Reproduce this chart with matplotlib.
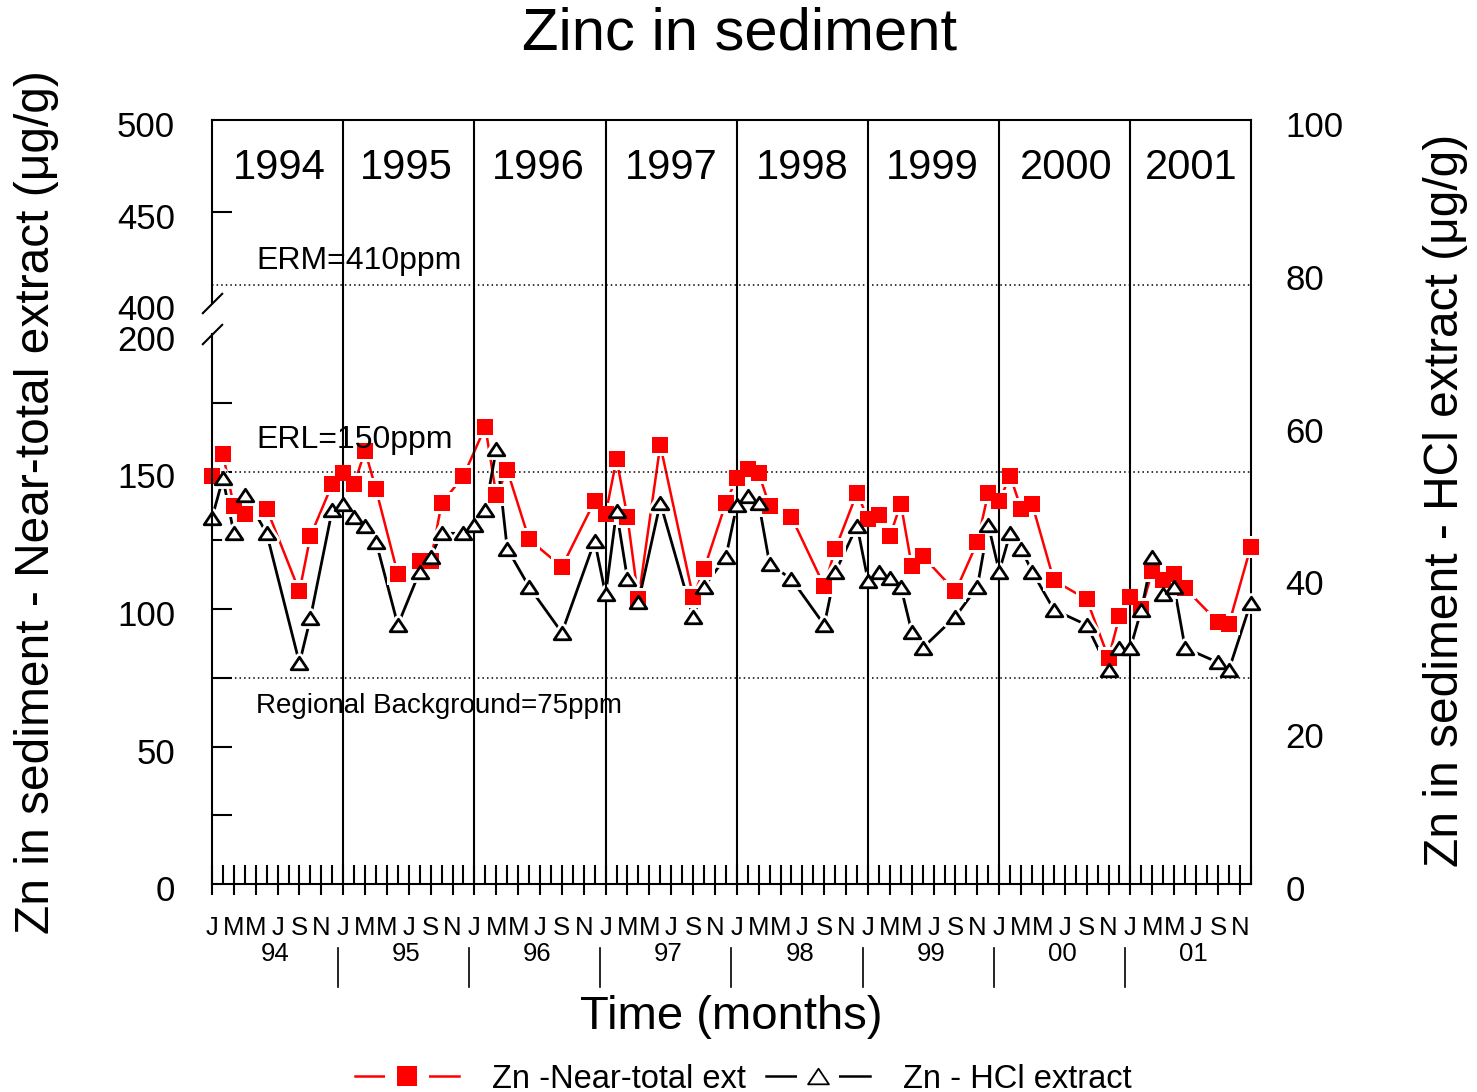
import numpy as np
import matplotlib
matplotlib.use('Agg')
import matplotlib.pyplot as plt
from matplotlib.path import Path
from matplotlib.markers import MarkerStyle
from matplotlib.lines import Line2D
from matplotlib.legend_handler import HandlerTuple
from matplotlib.transforms import ScaledTranslation

plt.rcParams['font.family'] = ['Liberation Sans', 'DejaVu Sans']

# ---------------- data ----------------
nt_months = [0, 1, 2, 3, 5, 8, 9, 11, 12, 13, 14, 15, 17, 19, 20, 21, 23, 25, 26, 27,
             29, 32, 35, 36, 37, 38, 39, 41, 44, 45, 47, 48, 49, 50, 51, 53, 56, 57,
             59, 60, 61, 62, 63, 64, 65, 68, 70, 71, 72, 73, 74, 75, 77, 80, 82, 83,
             84, 85, 86, 87, 88, 89, 92, 93, 95]
nt_values = [148.4, 156.3, 137.4, 134.4, 136.5, 106.4, 126.5, 145.4, 149.6, 145.4,
             157.5, 143.5, 112.6, 117.4, 117.4, 138.4, 148.4, 166.3, 141.3, 150.5,
             125.3, 115.3, 139.3, 134.4, 154.5, 133.4, 103.5, 159.6, 104.4, 114.4,
             138.6, 147.7, 150.8, 149.4, 137.4, 133.4, 108.3, 121.7, 142.3, 132.6,
             134.1, 126.5, 138.3, 115.6, 119.2, 106.4, 124.3, 142.3, 139.3, 148.4,
             136.5, 138.3, 110.4, 103.5, 82.2, 97.4, 104.3, 100.0, 113.7, 110.5,
             112.6, 107.5, 95.3, 94.4, 122.5]

hcl_months = [0, 1, 2, 3, 5, 8, 9, 11, 12, 13, 14, 15, 17, 19, 20, 21, 23, 24, 25, 26,
              27, 29, 32, 35, 36, 37, 38, 39, 41, 44, 45, 47, 48, 49, 50, 51, 53, 56,
              57, 59, 60, 61, 62, 63, 64, 65, 68, 70, 71, 72, 73, 74, 75, 77, 80, 82,
              83, 84, 85, 86, 87, 88, 89, 92, 93, 95]
hcl_values = [47.9, 53.1, 45.9, 50.9, 45.9, 28.9, 34.8, 49.0, 49.8, 48.0, 46.9, 44.8,
              33.9, 40.9, 42.8, 45.9, 45.9, 47.0, 49.0, 56.9, 43.9, 38.9, 32.9, 44.9,
              37.9, 48.8, 39.9, 36.9, 49.9, 34.9, 38.9, 42.8, 49.6, 50.8, 49.9, 41.9,
              39.9, 33.9, 40.8, 46.9, 39.7, 40.8, 40.0, 38.9, 33.0, 30.9, 35.0, 38.9,
              47.0, 40.9, 45.9, 43.9, 40.9, 35.9, 33.9, 28.0, 30.9, 30.9, 35.9, 42.8,
              37.9, 38.9, 30.9, 29.0, 28.0, 36.8]

month_letters = ['J', 'M', 'M', 'J', 'S', 'N']
year_short = ['94', '95', '96', '97', '98', '99', '00', '01']
year_long = ['1994', '1995', '1996', '1997', '1998', '1999', '2000', '2001']
guide_levels = [410, 150, 75]
guide_labels = ['ERM=410ppm', 'ERL=150ppm', 'Regional Background=75ppm']
left_tick_values = [0, 50, 100, 150, 200, 400, 450, 500]
left_minor_values = [25, 50, 75, 100, 125, 150, 175, 450]
right_tick_values = [0, 20, 40, 60, 80, 100]

# ---------------- layout ----------------
W, H = 1477, 1092
fig = plt.figure(figsize=(W / 100, H / 100), dpi=100)
L, R, B, T = 212, 1250.7, 884, 120
ax = fig.add_axes([L / W, 1 - B / H, (R - L) / W, (B - T) / H])
px = 72 / 100  # points per pixel

# broken left scale (0-200 | 400-500)
brk_v = [-1000, 0, 200, 400, 500, 1500]
brk_p = [-2750, 0, 550, 581, 764, 764 + 1830]


def fwd(v):
    return np.interp(v, brk_v, brk_p)


def inv(p):
    return np.interp(p, brk_p, brk_v)


ax.set_yscale('function', functions=(fwd, inv))
ax.set_ylim(0, 500)
ax.set_xlim(0, 95)

ax2 = ax.twinx()
ax2.set_ylim(0, 100)
for s in ax2.spines.values():
    s.set_visible(False)

# spines
for s in ['top', 'right', 'bottom']:
    ax.spines[s].set_linewidth(1.5)
ax.spines['left'].set_visible(False)
ytr = ax.get_yaxis_transform()
ax.plot([0, 0], [0, 200], transform=ytr, color='k', lw=1.5, clip_on=False, zorder=6)
ax.plot([0, 0], [400, 500], transform=ytr, color='k', lw=1.5, clip_on=False, zorder=6)
ax.plot([0, 0], [200, 400], transform=ytr, ls='none',
        marker=Path([(-1, -1), (1, 1)]), ms=15, mec='k', mew=1.5,
        clip_on=False, zorder=6)

# left ticks
ax.set_yticks(left_tick_values)
ax.set_yticklabels([str(v) for v in left_tick_values])
ax.set_yticks(left_minor_values, minor=True)
ax.yaxis.remove_overlapping_locs = False
ax.tick_params(axis='y', which='major', length=0, pad=26.5, labelsize=25)
ax.tick_params(axis='y', which='minor', direction='in', length=20 * px, width=1.5)

# right ticks
ax2.set_yticks(right_tick_values)
ax2.tick_params(axis='y', which='major', length=0, pad=25, labelsize=25)

# nudge y tick labels slightly downward, as in the reference
shift = ScaledTranslation(0, -4 / 100, fig.dpi_scale_trans)
for a in (ax, ax2):
    for tk in a.yaxis.get_major_ticks():
        tk.label1.set_transform(tk.label1.get_transform() + shift)
        tk.label2.set_transform(tk.label2.get_transform() + shift)

# x ticks
major_x = np.arange(0, 95, 2)
ax.set_xticks(major_x)
ax.set_xticklabels([month_letters[i % 6] for i in range(len(major_x))])
ax.set_xticks(np.arange(0, 96, 1), minor=True)
ax.xaxis.remove_overlapping_locs = False
ax.tick_params(axis='x', which='major', direction='out', length=11 * px, width=1.5,
               labelsize=18.5, pad=15)
ax.tick_params(axis='x', which='minor', direction='in', length=19 * px, width=1.5)
ax.tick_params(axis='x', which='both', top=False)

# year lines
for k in range(1, 8):
    ax.axvline(12 * k, color='k', lw=1.5, zorder=3.5)

# guide lines
for lv in guide_levels:
    ax.axhline(lv, color='k', lw=1.1, dashes=(1, 2), zorder=3.5)

xtr = ax.get_xaxis_transform()
guide_y = [0.815, 0.581, 0.233]
guide_fs = [23, 23, 20]
for lab, yy, fs in zip(guide_labels, guide_y, guide_fs):
    ax.text(0.0424, yy, lab, transform=ax.transAxes, ha='left', va='center',
            fontsize=fs, zorder=7)

# top year labels
year_top_x = [6.2, 17.8, 29.8, 42.0, 54.0, 65.9, 78.1, 89.6]
for xx, lab in zip(year_top_x, year_long):
    ax.text(xx, 0.937, lab, transform=xtr, ha='center', va='center', fontsize=30)

# bottom year labels & separators
for k, lab in enumerate(year_short):
    ax.text(5.75 + 12 * k, -0.0915, lab, transform=xtr, ha='center', va='center',
            fontsize=18.5)
for k in range(7):
    ax.plot([11.5 + 12 * k] * 2, [-0.0838, -0.1348], transform=xtr, color='k',
            lw=1.2, clip_on=False)

# ---------------- data series ----------------
tri_path = Path([(-1, -0.75), (1, -0.75), (0, 0.75), (-1, -0.75)], closed=True)
tri_marker = MarkerStyle(tri_path, joinstyle='miter')
tri_halo = MarkerStyle(tri_path, joinstyle='round')

ax.plot(nt_months, nt_values, color='red', lw=1.8, zorder=2, clip_on=False)
ax.plot(hcl_months, hcl_values, color='k', lw=2.0, zorder=2.1, clip_on=False,
        transform=ax2.transData)
ax.plot(nt_months, nt_values, ls='none', marker='s', ms=16, mfc='white', mew=0,
        zorder=3, clip_on=False)
ax.plot(hcl_months, hcl_values, ls='none', marker=tri_halo, ms=12, mfc='white',
        mec='white', mew=6.0, zorder=3.1, clip_on=False, transform=ax2.transData)
ax.plot(nt_months, nt_values, ls='none', marker='s', ms=12, mfc='red', mec='red',
        mew=0, zorder=4, clip_on=False)
ax.plot(hcl_months, hcl_values, ls='none', marker=tri_marker, ms=12, mfc='white',
        mec='k', mew=2.0, zorder=4.1, clip_on=False, transform=ax2.transData)

# ---------------- texts ----------------
fig.text(740 / W, 1 - 34 / H, 'Zinc in sediment', ha='center', va='center',
         fontsize=43)
fig.text(731 / W, 1 - 1017 / H, 'Time (months)', ha='center', va='center',
         fontsize=34)
fig.text(37 / W, 1 - 502 / H, 'Zn in sediment - Near-total extract (\u03bcg/g)',
         rotation=90, ha='center', va='center', fontsize=34.5)
fig.text(1445 / W, 1 - 500 / H, 'Zn in sediment - HCl extract (\u03bcg/g)',
         rotation=90, ha='center', va='center', fontsize=34.5)

# ---------------- legend ----------------
h_red = (Line2D([], [], color='red', lw=1.8),
         Line2D([], [], ls='none', marker='s', ms=31, color='white', mew=0),
         Line2D([], [], ls='none', marker='s', ms=14, color='red', mew=0))
h_blk = (Line2D([], [], color='k', lw=1.8),
         Line2D([], [], ls='none', marker='s', ms=30, color='white', mew=0),
         Line2D([], [], ls='none', marker=tri_marker, ms=15, mfc='white', mec='k',
                mew=1.3))
fig.legend([h_red, h_blk], ['Zn -Near-total ext', 'Zn - HCl extract'],
           handler_map={tuple: HandlerTuple(ndivide=1)}, ncol=2, frameon=False,
           loc='center left', bbox_to_anchor=(355 / W, 1 - 1079 / H),
           borderaxespad=0, borderpad=0, fontsize=23.5, handlelength=3.2,
           handletextpad=1.0, columnspacing=0.6, numpoints=1)

fig.savefig('out.png', dpi=100)
